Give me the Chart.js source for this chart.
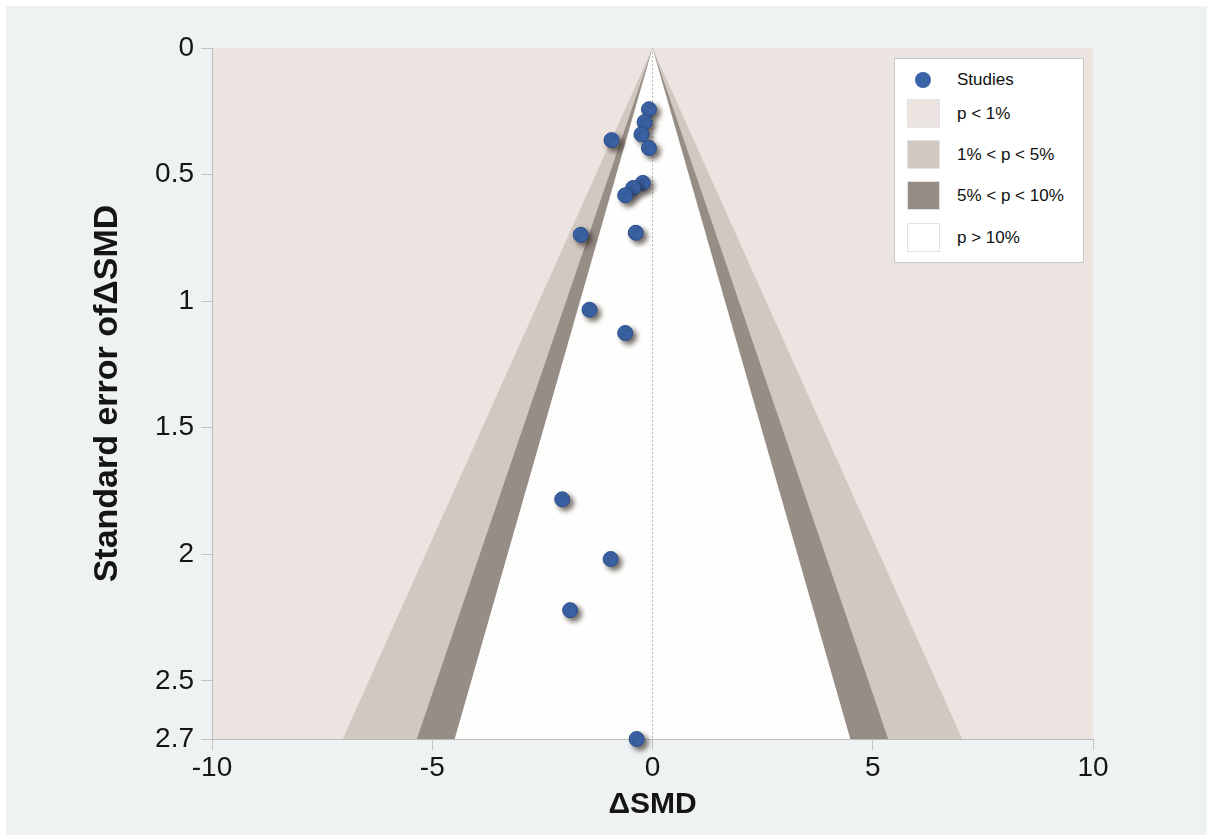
<!DOCTYPE html>
<html>
<head>
<meta charset="utf-8">
<script src="https://cdn.jsdelivr.net/npm/chart.js@4.4.1/dist/chart.umd.min.js"></script>
<style>
  html, body { margin: 0; padding: 0; background: #fff; }
  #frame { position: absolute; left: 6px; top: 6px; width: 1201px; height: 829px; background: #eff2f2; }
  #funnel { position: absolute; left: 0; top: 0; }
  #legend { position: absolute; left: 894px; top: 58px; width: 188px; height: 203px; background: #fff;
            border: 1px solid #c9c9c9; font: 17px "Liberation Sans", Arial, sans-serif; color: #111; }
  #legend .mark { position: absolute; box-sizing: border-box; }
  #legend .txt { position: absolute; left: 62px; line-height: 20px; white-space: nowrap; }
</style>
</head>
<body>
<div id="frame"></div>
<canvas id="funnel" width="1210" height="837"></canvas>
<div id="legend"></div>
<script>
// studies: effect (ΔSMD) and standard error
const studyX  = [-0.08, -0.18, -0.25, -0.93, -0.08, -0.22, -0.44, -0.62, -1.63, -0.38, -1.43, -0.62, -2.05, -0.95, -1.87, -0.36];
const studySE = [0.242, 0.293, 0.341, 0.364, 0.395, 0.533, 0.553, 0.582, 0.738, 0.730, 1.034, 1.126, 1.783, 2.019, 2.221, 2.730];

// contour limits (two-sided z for 1%, 5%, 10%)
const contourZ = [2.576, 1.96, 1.645];
const contourColors = ['#d1c8c1', '#968d86', '#fefefc'];
const outerColor = '#ebe4e0';
const seMax = 2.73;

const xTicks = [-10, -5, 0, 5, 10];
const yTicks = [0, 0.5, 1, 1.5, 2, 2.5, 2.73];
const yTickLabels = ['0', '0.5', '1', '1.5', '2', '2.5', '2.7'];

const legendLabels = ['Studies', 'p < 1%', '1% < p < 5%', '5% < p < 10%', 'p > 10%'];
const legendColors = ['#3b64a9', outerColor, '#d1c8c1', '#968d86', '#ffffff'];

const family = '"Liberation Sans", Arial, sans-serif';
const pointColor = '#3b64a9';

const studies = studyX.map((x, i) => ({ x: x, y: studySE[i] }));

const regionSets = contourZ.map((z, i) => ({
    type: 'line',
    data: [{ x: -z * seMax, y: seMax }, { x: 0, y: 0 }, { x: z * seMax, y: seMax }],
    borderWidth: 0,
    pointRadius: 0,
    fill: 'start',
    backgroundColor: contourColors[i],
    order: 5 - i
}));

const areaBg = {
    id: 'areaBg',
    beforeDraw(chart) {
        const a = chart.chartArea;
        const ctx = chart.ctx;
        ctx.save();
        ctx.fillStyle = outerColor;
        ctx.fillRect(a.left, a.top, a.right - a.left, a.bottom - a.top);
        ctx.restore();
    }
};

const pointShadow = {
    id: 'pointShadow',
    beforeDatasetDraw(chart, args) {
        if (args.meta.label !== 'Studies') return;
        const ctx = chart.ctx;
        ctx.save();
        ctx.shadowColor = 'rgba(40,30,25,0.65)';
        ctx.shadowOffsetX = 3.5;
        ctx.shadowOffsetY = 3.5;
        ctx.shadowBlur = 5;
    },
    afterDatasetDraw(chart, args) {
        if (args.meta.label !== 'Studies') return;
        chart.ctx.restore();
    }
};

new Chart(document.getElementById('funnel').getContext('2d'), {
    type: 'scatter',
    data: {
        datasets: [
            {
                label: 'Studies',
                data: studies,
                pointRadius: 7.5,
                pointBackgroundColor: pointColor,
                pointBorderColor: '#2b4e8c',
                pointBorderWidth: 1,
                clip: false,
                order: 0
            },
            {
                type: 'line',
                data: [{ x: 0, y: 0 }, { x: 0, y: seMax }],
                borderColor: '#b8b8b8',
                borderWidth: 1,
                borderDash: [2, 2],
                pointRadius: 0,
                fill: false,
                order: 1
            },
            ...regionSets
        ]
    },
    options: {
        responsive: false,
        animation: false,
        layout: { padding: { left: 0, top: 48, right: 117, bottom: 0 } },
        plugins: { legend: { display: false }, tooltip: { enabled: false } },
        scales: {
            x: {
                type: 'linear', min: -10, max: 10,
                afterBuildTicks: s => { s.ticks = xTicks.map(v => ({ value: v })); },
                ticks: { color: '#151515', font: { size: 28, family: family }, padding: 1, maxRotation: 0 },
                grid: { drawOnChartArea: false, tickLength: 11, color: '#c4c4c4' },
                border: { color: '#bcbcbc' },
                title: { display: true, text: 'ΔSMD', color: '#151515', font: { size: 30, weight: 'bold', family: family }, padding: { top: 0, bottom: 14 } },
                afterFit: s => { s.height = 98; }
            },
            y: {
                type: 'linear', reverse: true, min: 0, max: seMax,
                afterBuildTicks: s => { s.ticks = yTicks.map(v => ({ value: v })); },
                ticks: { color: '#151515', font: { size: 28, family: family }, padding: 7,
                         callback: v => yTickLabels[yTicks.indexOf(v)] },
                grid: { drawOnChartArea: false, tickLength: 11, color: '#c4c4c4' },
                border: { color: '#bcbcbc' },
                title: { display: true, text: 'Standard error ofΔSMD', color: '#151515', font: { size: 34, weight: 'bold', family: family }, padding: { top: 87, bottom: 0 } },
                afterFit: s => { s.width = 212; }
            }
        }
    },
    plugins: [areaBg, pointShadow]
});

// legend box
const legend = document.getElementById('legend');
const rowY = [21, 55, 96, 137, 179];
legendLabels.forEach((lab, i) => {
    const m = document.createElement('div');
    m.className = 'mark';
    if (i === 0) {
        m.style.cssText = 'left:20px;width:16px;height:16px;border-radius:50%;background:' + legendColors[i] + ';top:' + (rowY[i] - 8) + 'px';
    } else {
        m.style.cssText = 'left:12px;width:33px;height:29px;border:1px solid #e2e2e2;background:' + legendColors[i] + ';top:' + (rowY[i] - 15) + 'px';
    }
    legend.appendChild(m);
    const t = document.createElement('div');
    t.className = 'txt';
    t.textContent = lab;
    t.style.top = (rowY[i] - 10) + 'px';
    legend.appendChild(t);
});
</script>
</body>
</html>
